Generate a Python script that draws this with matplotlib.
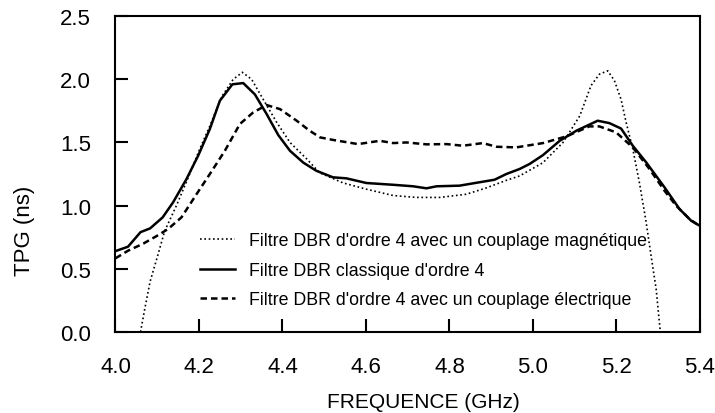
import matplotlib
matplotlib.use('Agg')
import matplotlib.pyplot as plt

plt.rcParams['font.family'] = ['Liberation Sans', 'DejaVu Sans']

# Filtre DBR d'ordre 4 avec un couplage magnétique (pointillés)
freq_mag = [4.060, 4.070, 4.083, 4.099, 4.118, 4.146, 4.174, 4.202, 4.226, 4.254,
            4.282, 4.304, 4.326, 4.354, 4.386, 4.418, 4.458, 4.489, 4.545, 4.601,
            4.665, 4.720, 4.777, 4.840, 4.888, 4.936, 4.968, 5.024, 5.072, 5.112,
            5.139, 5.159, 5.179, 5.195, 5.211, 5.223, 5.239, 5.255, 5.271, 5.283,
            5.295, 5.305]
tpg_mag = [0.00, 0.18, 0.40, 0.58, 0.80, 1.00, 1.22, 1.45, 1.63, 1.86,
           2.00, 2.055, 2.00, 1.84, 1.66, 1.50, 1.37, 1.26, 1.18, 1.13,
           1.08, 1.065, 1.065, 1.09, 1.14, 1.20, 1.235, 1.34, 1.50, 1.71,
           1.95, 2.04, 2.067, 1.99, 1.84, 1.66, 1.45, 1.18, 0.87, 0.60,
           0.34, 0.00]

# Filtre DBR classique d'ordre 4 (trait plein)
freq_cla = [4.000, 4.030, 4.060, 4.083, 4.113, 4.138, 4.170, 4.198, 4.226, 4.250,
            4.280, 4.306, 4.334, 4.362, 4.390, 4.418, 4.450, 4.481, 4.521, 4.553,
            4.601, 4.665, 4.713, 4.745, 4.769, 4.824, 4.856, 4.908, 4.936, 4.968,
            4.992, 5.024, 5.064, 5.104, 5.155, 5.183, 5.211, 5.239, 5.271, 5.315,
            5.351, 5.379, 5.400]
tpg_cla = [0.64, 0.675, 0.79, 0.82, 0.907, 1.026, 1.21, 1.395, 1.606, 1.83,
           1.96, 1.97, 1.88, 1.725, 1.558, 1.434, 1.34, 1.276, 1.224, 1.216,
           1.179, 1.165, 1.153, 1.137, 1.153, 1.158, 1.176, 1.205, 1.25, 1.29,
           1.33, 1.40, 1.513, 1.593, 1.672, 1.653, 1.61, 1.474, 1.343, 1.145,
           0.973, 0.88, 0.84]

# Filtre DBR d'ordre 4 avec un couplage électrique (tirets)
freq_ele = [4.000, 4.030, 4.067, 4.099, 4.126, 4.158, 4.194, 4.226, 4.262, 4.298,
            4.330, 4.362, 4.394, 4.434, 4.465, 4.490, 4.521, 4.581, 4.633, 4.665,
            4.697, 4.745, 4.793, 4.832, 4.880, 4.912, 4.960, 5.024, 5.080, 5.135,
            5.159, 5.199, 5.239, 5.279, 5.315, 5.343, 5.375, 5.400]
tpg_ele = [0.583, 0.643, 0.70, 0.76, 0.815, 0.907, 1.09, 1.25, 1.434, 1.646,
           1.738, 1.796, 1.764, 1.672, 1.593, 1.54, 1.52, 1.487, 1.513, 1.495,
           1.50, 1.485, 1.487, 1.474, 1.495, 1.466, 1.461, 1.495, 1.548, 1.627,
           1.627, 1.58, 1.461, 1.29, 1.118, 0.999, 0.894, 0.836]

labels = ["Filtre DBR d'ordre 4 avec un couplage magnétique",
          "Filtre DBR classique d'ordre 4",
          "Filtre DBR d'ordre 4 avec un couplage électrique"]

fig = plt.figure(figsize=(7.15, 4.14), dpi=100)
ax = fig.add_axes([0.1615, 0.1957, 0.8175, 0.763])

ax.plot(freq_mag, tpg_mag, color='black', lw=1.2, linestyle=(0, (1, 1.6)), label=labels[0])
ax.plot(freq_cla, tpg_cla, color='black', lw=1.8, linestyle='-', label=labels[1])
ax.plot(freq_ele, tpg_ele, color='black', lw=1.8, linestyle=(0, (2.6, 1.6)), label=labels[2])

ax.set_xlim(4.0, 5.4)
ax.set_ylim(0, 2.5)
ax.set_xticks([4.0, 4.2, 4.4, 4.6, 4.8, 5.0, 5.2, 5.4])
ax.set_yticks([0.0, 0.5, 1.0, 1.5, 2.0, 2.5])
ax.set_xticklabels(['%.1f' % v for v in ax.get_xticks()])
ax.set_yticklabels(['%.1f' % v for v in ax.get_yticks()])
ax.tick_params(direction='in', length=9.5, width=1.5, labelsize=16, pad=17.5,
               top=False, right=False)
for s in ax.spines.values():
    s.set_linewidth(1.5)

ax.set_xlabel('FREQUENCE (GHz)', fontsize=15)
ax.set_ylabel('TPG (ns)', fontsize=16)
ax.xaxis.set_label_coords(0.5265, -0.19)
ax.yaxis.set_label_coords(-0.138, 0.323)

ax.legend(loc='upper left', bbox_to_anchor=(0.144, 0.315), frameon=False,
          fontsize=12.8, handlelength=1.97, handletextpad=0.79, labelspacing=0.70,
          borderpad=0, borderaxespad=0)

fig.savefig('out.png', dpi=100)
